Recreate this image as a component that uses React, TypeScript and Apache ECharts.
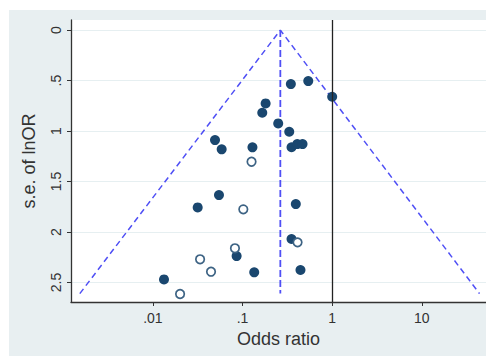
import React, { useEffect, useRef } from "react";
import * as echarts from "echarts";

// Study estimates (odds ratio, standard error of lnOR)
const filledOR = [0.346, 0.541, 1.0, 0.181, 0.166, 0.25, 0.332, 0.352, 0.408, 0.467, 0.0493, 0.0585, 0.129, 0.0546, 0.0316, 0.393, 0.352, 0.443, 0.0133, 0.0859, 0.135];
const filledSE = [0.535, 0.505, 0.66, 0.726, 0.819, 0.924, 1.007, 1.16, 1.129, 1.129, 1.089, 1.181, 1.161, 1.634, 1.756, 1.723, 2.069, 2.376, 2.469, 2.238, 2.399];
const openOR = [0.126, 0.102, 0.411, 0.0201, 0.0336, 0.0445, 0.0823];
const openSE = [1.304, 1.775, 2.102, 2.614, 2.27, 2.393, 2.161];

// Funnel (pooled estimate and pseudo 95% limits at the largest s.e.)
const pooledOR = 0.264;
const funnelSEMax = 2.61;
const funnelLeftOR = 0.00153;
const funnelRightOR = 44;

// Axes
const xTickValues = [0.01, 0.1, 1, 10];
const xTickLabels = [".01", ".1", "1", "10"];
const yTickValues = [0, 0.5, 1, 1.5, 2, 2.5];
const yTickLabels = ["0", ".5", "1", "1.5", "2", "2.5"];
const xRangeOR = [0.00122, 52];
const yRange = [-0.1, 2.693];

const lg = (v: number) => Math.log10(v);

export default function App() {
  const ref = useRef<HTMLDivElement>(null);
  useEffect(() => {
    if (!ref.current) return;
    const chart = echarts.init(ref.current, undefined, { renderer: "svg" });
    const font = "'Liberation Sans', Arial, sans-serif";
    const navy = "#1a476f";
    const blue = "#4f4ff5";
    const xLabel = (v: number) => {
      const i = xTickValues.findIndex((t) => Math.abs(lg(t) - v) < 1e-6);
      return i >= 0 ? xTickLabels[i] : "";
    };
    const yLabel = (v: number) => {
      const i = yTickValues.findIndex((t) => Math.abs(t - v) < 1e-6);
      return i >= 0 ? yTickLabels[i] : "";
    };
    chart.setOption({
      animation: false,
      backgroundColor: "#ffffff",
      textStyle: { fontFamily: font },
      graphic: [
        {
          type: "rect",
          z: -10,
          silent: true,
          shape: { x: 9, y: 10, width: 477, height: 346 },
          style: { fill: "#e8eff1" },
        },
      ],
      grid: {
        left: 71,
        top: 20,
        right: 0,
        bottom: 54,
        show: true,
        backgroundColor: "#ffffff",
        borderWidth: 0,
      },
      xAxis: {
        type: "value",
        min: lg(xRangeOR[0]),
        max: lg(xRangeOR[1]),
        name: "Odds ratio",
        nameLocation: "middle",
        nameGap: 25,
        nameTextStyle: { fontSize: 18, color: "#333", fontFamily: font },
        axisLine: { show: true, onZero: false, lineStyle: { color: "#333", width: 1.3 } },
        axisTick: { show: true, length: 4, lineStyle: { color: "#333" }, customValues: xTickValues.map(lg) },
        axisLabel: {
          customValues: xTickValues.map(lg),
          formatter: xLabel,
          fontSize: 14,
          color: "#333",
          margin: 9,
          fontFamily: font,
        },
        splitLine: { show: false },
      },
      yAxis: {
        type: "value",
        inverse: true,
        min: yRange[0],
        max: yRange[1],
        name: "s.e. of lnOR",
        nameLocation: "middle",
        nameRotate: 90,
        nameGap: 33,
        nameTextStyle: { fontSize: 18, color: "#333", fontFamily: font },
        axisLine: { show: true, onZero: false, lineStyle: { color: "#333", width: 1.3 } },
        axisTick: { show: true, length: 4, lineStyle: { color: "#333" }, customValues: yTickValues },
        axisLabel: {
          customValues: yTickValues,
          formatter: yLabel,
          rotate: 90,
          fontSize: 14,
          color: "#333",
          margin: 8,
          fontFamily: font,
        },
        splitLine: { show: true, lineStyle: { color: "#e6eff1", width: 1.2 } },
      },
      series: [
        {
          type: "line",
          z: 1,
          symbol: "none",
          data: [
            [lg(funnelLeftOR), funnelSEMax],
            [lg(pooledOR), 0],
            [lg(funnelRightOR), funnelSEMax],
          ],
          lineStyle: { color: blue, width: 1.5, type: [6, 4] },
          markLine: {
            silent: true,
            symbol: "none",
            label: { show: false },
            lineStyle: { color: "#222", width: 1.3, type: "solid" },
            data: [{ xAxis: 0 }],
          },
        },
        {
          type: "line",
          z: 1,
          symbol: "none",
          data: [
            [lg(pooledOR), 0],
            [lg(pooledOR), funnelSEMax],
          ],
          lineStyle: { color: blue, width: 1.8, type: [7, 3] },
        },
        {
          type: "scatter",
          z: 3,
          symbol: "circle",
          symbolSize: 10,
          data: filledOR.map((o, i) => [lg(o), filledSE[i]]),
          itemStyle: { color: navy, opacity: 1 },
        },
        {
          type: "scatter",
          z: 3,
          symbol: "circle",
          symbolSize: 8.5,
          data: openOR.map((o, i) => [lg(o), openSE[i]]),
          itemStyle: { color: "#ffffff", borderColor: "#3d6384", borderWidth: 1.7, opacity: 1 },
        },
      ],
    });
    return () => chart.dispose();
  }, []);
  return (
    <div
      ref={ref}
      style={{ position: "fixed", left: 0, top: 0, width: 486, height: 356 }}
    />
  );
}
